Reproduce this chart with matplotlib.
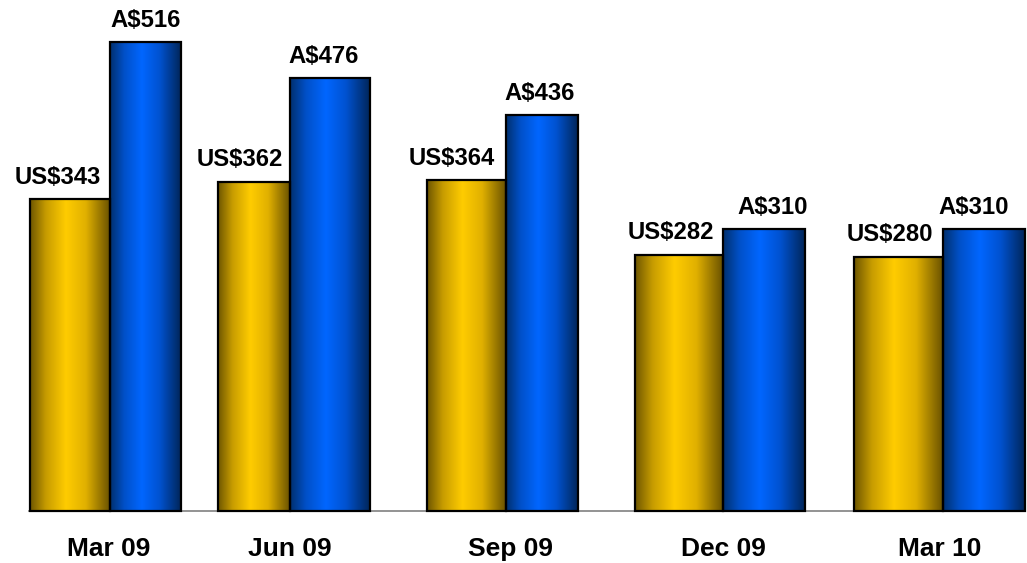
import numpy as np
import matplotlib
matplotlib.use("Agg")
import matplotlib.pyplot as plt
from matplotlib.colors import LinearSegmentedColormap
from matplotlib.patches import Rectangle

plt.rcParams['font.family'] = ['Liberation Sans', 'DejaVu Sans']

periods = ['Mar 09', 'Jun 09', 'Sep 09', 'Dec 09', 'Mar 10']
usd = [343, 362, 364, 282, 280]
aud = [516, 476, 436, 310, 310]
usd_labels = ['US$343', 'US$362', 'US$364', 'US$282', 'US$280']
aud_labels = ['A$516', 'A$476', 'A$436', 'A$310', 'A$310']

# layout (pixel-like x units)
centers = [110, 290, 506, 723, 943]
gold_w = [80, 72, 79, 88, 89]
blue_w = [71, 80, 72, 82, 82]
usd_dx = [-12.5, -14, -15, -8, -9]
aud_dx = [0.5, -6, -2, 9, -10]
cat_dx = [-1, 0, 4, 0, -3]

gold_cmap = LinearSegmentedColormap.from_list(
    'gold', [(0, '#6e5600'), (0.2, '#c79c00'), (0.45, '#ffcc00'),
             (0.7, '#e0b000'), (1, '#6a5200')])
blue_cmap = LinearSegmentedColormap.from_list(
    'blue', [(0, '#00306e'), (0.2, '#0050c8'), (0.45, '#0066ff'),
             (0.7, '#0052d0'), (1, '#00265a')])

fig = plt.figure(figsize=(10.27, 5.63), dpi=100)
ax = fig.add_axes([0, 0, 1, 1])
ax.set_xlim(0, 1027)
ppu = 469 / 516.0
ax.set_ylim(-52 / ppu, 511 / ppu)
ax.axis('off')

grad = np.linspace(0, 1, 256).reshape(1, -1)

def bar(x0, w, h, cmap):
    im = ax.imshow(grad, cmap=cmap, aspect='auto', extent=(x0, x0 + w, 0, h),
                   zorder=2, interpolation='bicubic')
    r = Rectangle((x0, 0), w, h, facecolor='none', edgecolor='black',
                  linewidth=1.6, zorder=3)
    ax.add_patch(r)
    im.set_clip_path(r)

ax.plot([29, 1025], [0, 0], color='#808080', linewidth=1.2, zorder=1)

for i in range(len(periods)):
    c = centers[i]
    bar(c - gold_w[i], gold_w[i], usd[i], gold_cmap)
    bar(c, blue_w[i], aud[i], blue_cmap)
    ax.text(c - gold_w[i] / 2 + usd_dx[i], usd[i] + 15.5 / ppu, usd_labels[i],
            ha='center', va='baseline', fontsize=17.2, fontweight='bold')
    ax.text(c + blue_w[i] / 2 + aud_dx[i], aud[i] + 15 / ppu, aud_labels[i],
            ha='center', va='baseline', fontsize=17.2, fontweight='bold')
    ax.text(c + cat_dx[i], -45 / ppu, periods[i], ha='center', va='baseline',
            fontsize=19, fontweight='bold')

fig.savefig('out.png', dpi=100)
